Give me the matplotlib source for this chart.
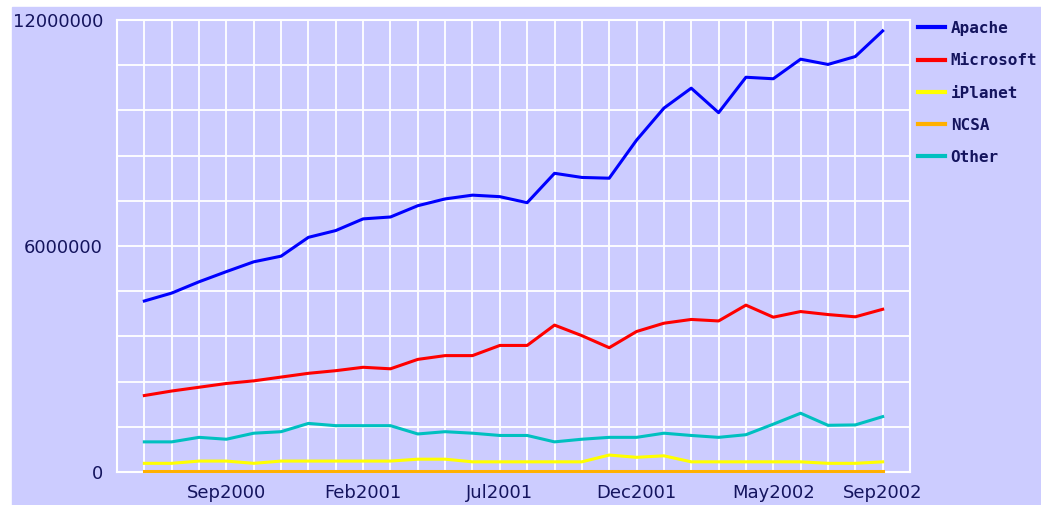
import matplotlib.pyplot as plt
from matplotlib.patches import Rectangle

bg = "#CCCCFF"
txt = "#14145e"

# monthly, Jun2000 .. Sep2002
months = ["Jun2000", "Jul2000", "Aug2000", "Sep2000", "Oct2000", "Nov2000", "Dec2000",
          "Jan2001", "Feb2001", "Mar2001", "Apr2001", "May2001", "Jun2001", "Jul2001",
          "Aug2001", "Sep2001", "Oct2001", "Nov2001", "Dec2001", "Jan2002", "Feb2002",
          "Mar2002", "Apr2002", "May2002", "Jun2002", "Jul2002", "Aug2002", "Sep2002"]
shown = ["Sep2000", "Feb2001", "Jul2001", "Dec2001", "May2002", "Sep2002"]

apache = [4540000, 4750000, 5050000, 5320000, 5580000, 5730000, 6230000, 6410000,
          6720000, 6770000, 7070000, 7250000, 7350000, 7310000, 7150000, 7930000,
          7820000, 7800000, 8810000, 9660000, 10190000, 9540000, 10480000, 10440000,
          10960000, 10820000, 11030000, 11710000]
microsoft = [2030000, 2150000, 2250000, 2350000, 2420000, 2520000, 2620000, 2690000,
             2780000, 2740000, 2990000, 3090000, 3090000, 3360000, 3360000, 3900000,
             3620000, 3300000, 3730000, 3950000, 4050000, 4010000, 4430000, 4110000,
             4260000, 4180000, 4120000, 4320000]
iplanet = [230000, 230000, 290000, 290000, 230000, 290000, 290000, 290000,
           290000, 290000, 340000, 340000, 270000, 270000, 270000, 270000,
           270000, 450000, 390000, 430000, 270000, 270000, 270000, 270000,
           270000, 230000, 230000, 270000]
ncsa = [30000] * 28
other = [800000, 800000, 920000, 870000, 1030000, 1070000, 1290000, 1230000,
         1230000, 1230000, 1010000, 1070000, 1030000, 970000, 970000, 800000,
         870000, 920000, 920000, 1030000, 970000, 920000, 990000, 1270000,
         1560000, 1240000, 1250000, 1470000]

series = [("Apache", apache, "#0000FF"), ("Microsoft", microsoft, "#FF0000"),
          ("iPlanet", iplanet, "#FFFF00"), ("NCSA", ncsa, "#FFB000"),
          ("Other", other, "#00C0C0")]

fig = plt.figure(figsize=(10.41, 5.05), dpi=100)
fig.patch.set_facecolor("white")
fig.patches.append(Rectangle((12 / 1041, 0), 1 - 12 / 1041, 1 - 7 / 505,
                             transform=fig.transFigure, color=bg, zorder=-10))

ax = fig.add_axes([117 / 1041, 1 - 472 / 505, (910 - 117) / 1041, (472 - 20) / 505])
ax.set_facecolor(bg)

x = list(range(1, len(months) + 1))
for name, vals, c in series:
    ax.plot(x, vals, color=c, lw=2.2, label=name, zorder=3, clip_on=False)

ax.set_xlim(0, len(months) + 1)
ax.set_ylim(0, 12000000)
ax.set_xticks(range(0, len(months) + 2))
ax.set_xticklabels([""] + [m if m in shown else "" for m in months] + [""])
yt = [i * 1200000 for i in range(11)]
ax.set_yticks(yt)
ax.set_yticklabels([str(v) if v in (0, 6000000, 12000000) else "" for v in yt])

ax.grid(color="white", lw=1.3)
ax.set_axisbelow(True)
for s in ax.spines.values():
    s.set_color("white")
    s.set_linewidth(1.5)
ax.tick_params(length=0, labelsize=13, labelcolor=txt)
ax.tick_params(axis="x", pad=9)
ax.tick_params(axis="y", pad=10)

leg = ax.legend(loc="upper left", bbox_to_anchor=(918 / 1041, 1 - 21 / 505),
                bbox_transform=fig.transFigure, frameon=False, borderpad=0,
                borderaxespad=0, handlelength=1.7, handletextpad=0.35,
                labelspacing=1.08, labelcolor=txt,
                prop={"family": "DejaVu Sans Mono", "weight": "bold", "size": 11.5})
for l in leg.get_lines():
    l.set_linewidth(3)

fig.savefig("out.png", dpi=100, facecolor=fig.get_facecolor())
